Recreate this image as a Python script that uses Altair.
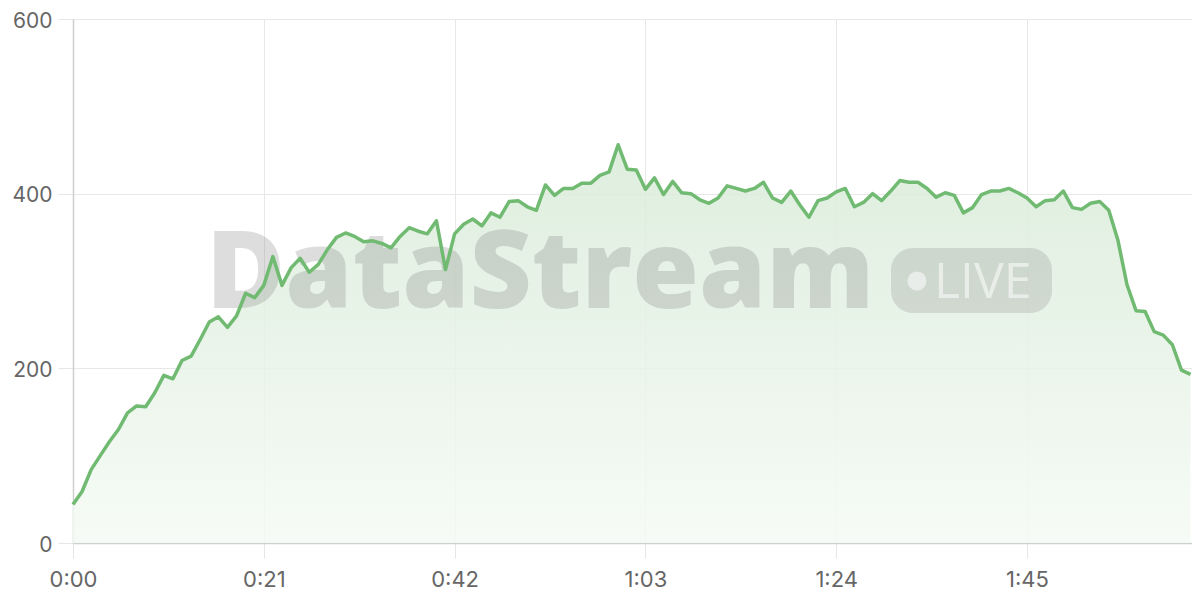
import altair as alt
import pandas as pd

# seconds since start
seconds = list(range(124))
values = [
    44, 59, 84, 100, 116, 130, 149, 157, 156, 172,
    192, 188, 209, 214, 233, 253, 259, 247, 260, 286,
    281, 295, 328, 295, 315, 326, 310, 319, 336, 350,
    355, 351, 345, 346, 343, 338, 351, 361, 357, 354,
    369, 313, 354, 365, 371, 363, 378, 373, 391, 392,
    385, 381, 410, 398, 406, 406, 412, 412, 421, 425,
    456, 428, 427, 405, 418, 399, 414, 401, 400, 393,
    389, 395, 409, 406, 403, 406, 413, 395, 390, 403,
    387, 373, 392, 395, 402, 406, 385, 390, 400, 392,
    403, 415, 413, 413, 406, 396, 401, 398, 378, 384,
    399, 403, 403, 406, 401, 395, 385, 392, 393, 403,
    384, 382, 389, 391, 381, 347, 296, 266, 265, 242,
    238, 227, 198, 193,
]
x_ticks = [0, 21, 42, 63, 84, 105]
y_ticks = [0, 200, 400, 600]

df = pd.DataFrame({"t": seconds, "v": values})

FONT = "Inter"
LINE = "#70ba72"

common_axis = dict(
    title=None,
    grid=True,
    gridColor="#e8e8e8",
    domainColor="#cfcfcf",
    domainWidth=1.5,
    tickColor="#e6e6e6",
    tickSize=15,
    labelFont=FONT,
    labelColor="#666666",
    labelFlush=False,
)

x_enc = alt.X(
    "t:Q",
    scale=alt.Scale(domain=[0, 123.16], nice=False),
    axis=alt.Axis(
        values=x_ticks,
        labelExpr="floor(datum.value/60) + ':' + (datum.value % 60 < 10 ? '0' : '') + (datum.value % 60)",
        labelPadding=11,
        labelFontSize=22,
        **common_axis,
    ),
)
y_enc = alt.Y(
    "v:Q",
    scale=alt.Scale(domain=[0, 600], nice=False),
    axis=alt.Axis(values=y_ticks, labelPadding=6, labelFontSize=21, labelOffset=2, **common_axis),
)

base = alt.Chart(df)

area = base.mark_area(
    color=alt.Gradient(
        gradient="linear",
        stops=[
            alt.GradientStop(color="#d8ebd8", offset=0),
            alt.GradientStop(color="#f5faf5", offset=1),
        ],
        x1=1, x2=1, y1=0, y2=1,
    ),
    opacity=0.85,
).encode(x=x_enc, y=y_enc)

wm = pd.DataFrame({"k": [0]})
wm_base = alt.Chart(wm)

wm_text = wm_base.mark_text(
    text="DataStream",
    font="Open Sans",
    fontWeight=800,
    fontSize=108,
    align="left",
    baseline="alphabetic",
    color="#7a7a7a",
    opacity=0.25,
).encode(x=alt.value(133), y=alt.value(289))

wm_badge = wm_base.mark_rect(
    color="#7a7a7a",
    opacity=0.22,
    cornerRadius=22,
).encode(x=alt.value(818), x2=alt.value(979), y=alt.value(229), y2=alt.value(294))

wm_dot = wm_base.mark_circle(
    color="#ffffff",
    opacity=0.55,
    size=360,
).encode(x=alt.value(844), y=alt.value(262))

wm_live = wm_base.mark_text(
    text="LIVE",
    font="Open Sans",
    fontSize=50,
    align="left",
    baseline="alphabetic",
    color="#ffffff",
    opacity=0.55,
).encode(x=alt.value(861), y=alt.value(279))

line = base.mark_line(color=LINE, strokeWidth=3.5, strokeJoin="round").encode(x=x_enc, y=y_enc)

chart = alt.layer(area, wm_text, wm_badge, wm_dot, wm_live, line).properties(
    width=1119,
    height=524,
    autosize=alt.AutoSizeParams(type="none"),
    padding={"left": 65, "top": 11, "right": 0, "bottom": 49},
).configure_view(stroke=None).configure(background="#ffffff")

chart.save("out.html", embed_options={"renderer": "svg", "actions": False})
